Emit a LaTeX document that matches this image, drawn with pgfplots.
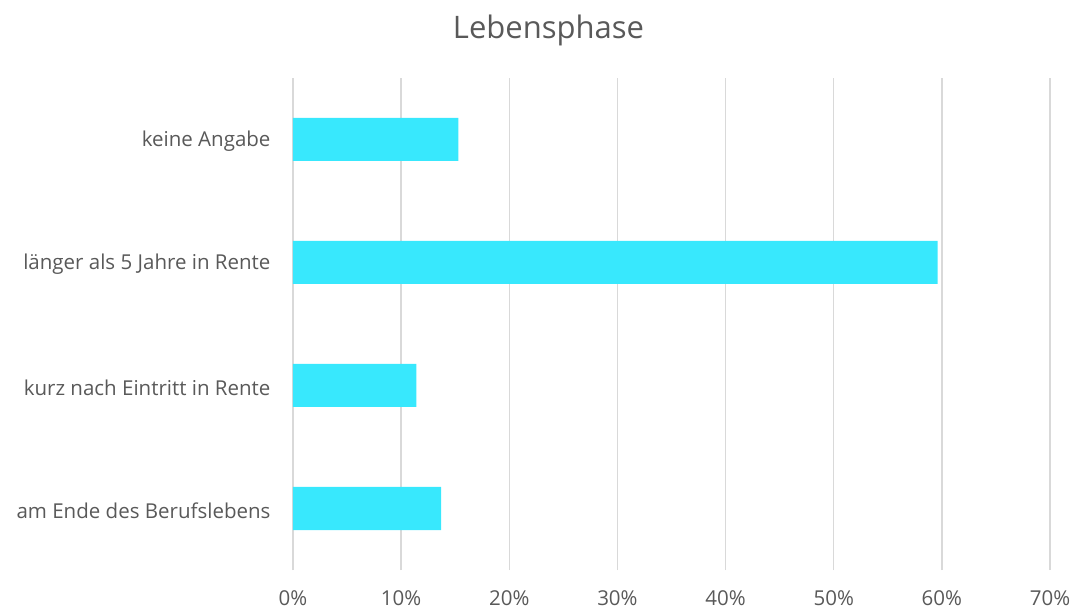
\documentclass[border=0pt]{standalone}
\usepackage{pgfplots}
\pgfplotsset{compat=1.18}
\usepackage{fontspec}
\setmainfont{Open Sans}
\definecolor{barc}{HTML}{38E8FD}
\definecolor{txt}{HTML}{595959}
\definecolor{grd}{HTML}{D9D9D9}
\begin{document}
\begin{tikzpicture}[x=1pt,y=1pt]
\useasboundingbox (0,0) rectangle (1076,613);
\begin{axis}[
  at={(293pt,43pt)}, anchor=south west,
  scale only axis, width=757pt, height=492pt,
  xbar, bar width=43pt,
  xmin=0, xmax=70, ymin=-0.5, ymax=3.5,
  xtick={0,10,...,70},
  xticklabel={\pgfmathprintnumber{\tick}\%},
  ytick={0,1,2,3},
  yticklabels={am Ende des Berufslebens, kurz nach Eintritt in Rente, länger als 5 Jahre in Rente, keine Angabe},
  /pgf/number format/assume math mode=true,
  xmajorgrids, major grid style={grd, line width=1.5pt},
  axis line style={draw=none},
  major tick length=0pt,
  tick label style={font=\fontsize{20.5}{24}\selectfont, text=txt},
  xticklabel style={yshift=-17pt},
  yticklabel style={xshift=-19pt, yshift=-2pt},
  title={Lebensphase},
  title style={font=\fontsize{31}{36}\selectfont, text=txt, yshift=23pt, xshift=-123pt},
  clip=false,
]
\addplot[fill=barc, draw=none] coordinates {(13.7,0) (11.4,1) (59.6,2) (15.3,3)};
\end{axis}
\end{tikzpicture}
\end{document}
